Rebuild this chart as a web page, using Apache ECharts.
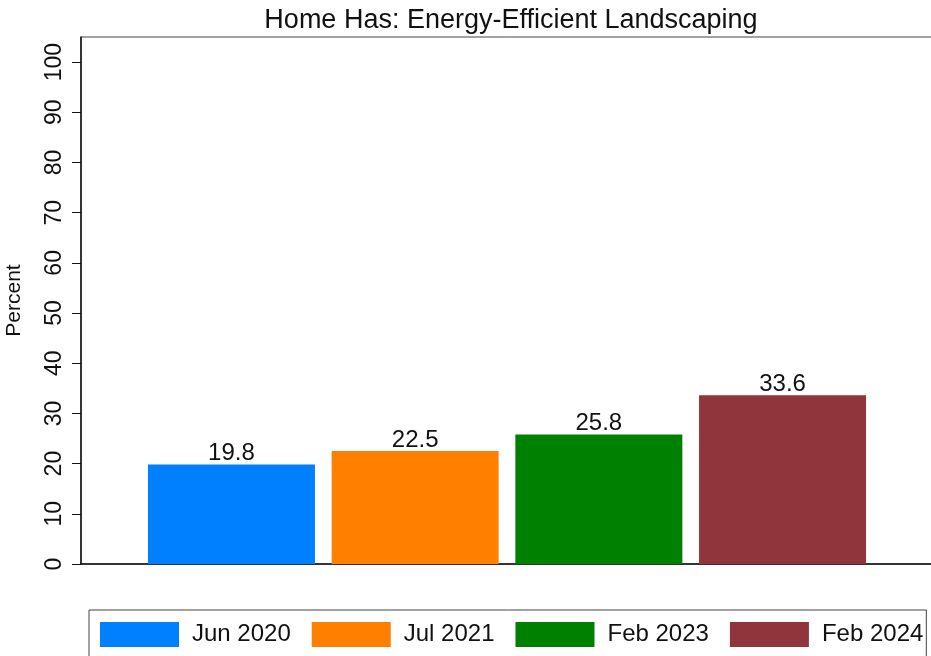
<!DOCTYPE html>
<html>
<head>
<meta charset="utf-8">
<script src="https://cdn.jsdelivr.net/npm/echarts@6/dist/echarts.min.js"></script>
<style>
html,body{margin:0;padding:0;background:#fff;}
#chart{width:931px;height:656px;}
</style>
</head>
<body>
<div id="chart"></div>
<script>
const titleText = "Home Has: Energy-Efficient Landscaping";
const seriesNames = ["Jun 2020", "Jul 2021", "Feb 2023", "Feb 2024"];
const seriesValues = [19.8, 22.5, 25.8, 33.6];
const seriesColors = ["#0080FF", "#FF8000", "#008000", "#90353B"];
const yTicks = [0, 10, 20, 30, 40, 50, 60, 70, 80, 90, 100];
const yAxisName = "Percent";

const FONT = "'Liberation Sans', Arial, Helvetica, sans-serif";
const chart = echarts.init(document.getElementById('chart'), null, {renderer: 'canvas'});

const series = seriesNames.map((name, i) => ({
  name: name,
  type: 'bar',
  data: [seriesValues[i]],
  barWidth: 167,
  barGap: '10%',
  itemStyle: {color: seriesColors[i]},
  label: {
    show: true,
    position: 'top',
    distance: -1,
    color: '#111',
    fontSize: 24,
    fontFamily: FONT,
    formatter: (p) => p.value.toFixed(1)
  },
  emphasis: {disabled: true}
}));

chart.setOption({
  animation: false,
  backgroundColor: '#fff',
  title: {
    text: titleText,
    left: 506,
    top: 2,
    textAlign: 'center',
    textStyle: {fontSize: 27, fontWeight: 'normal', color: '#111', fontFamily: FONT}
  },
  grid: {
    left: 81, right: -2, top: 37, bottom: 92,
    outerBoundsMode: 'none',
    containLabel: false,
    show: true, borderColor: '#444', borderWidth: 1, backgroundColor: 'transparent'
  },
  legend: {
    data: seriesNames,
    left: 89,
    top: 610,
    orient: 'horizontal',
    icon: 'rect',
    itemWidth: 79,
    itemHeight: 25,
    itemGap: 21,
    padding: [12, 3, 12, 11],
    borderColor: '#444',
    borderWidth: 1,
    textStyle: {fontSize: 24, color: '#111', fontFamily: FONT, padding: [0, 0, 0, 8]}
  },
  xAxis: {
    type: 'category',
    data: [''],
    axisLine: {show: true, lineStyle: {color: '#111', width: 1.5}},
    axisTick: {show: false},
    axisLabel: {show: false},
    splitLine: {show: false}
  },
  yAxis: {
    type: 'value',
    min: 0,
    max: 105,
    interval: 5,
    name: yAxisName,
    nameLocation: 'middle',
    nameGap: 56,
    nameRotate: 90,
    nameTextStyle: {fontSize: 21, color: '#111', fontFamily: FONT},
    axisLine: {show: true, lineStyle: {color: '#111', width: 1.5}},
    axisTick: {show: true, length: 9, lineStyle: {color: '#111'}, customValues: yTicks},
    axisLabel: {show: true, rotate: 90, margin: 15, fontSize: 23, color: '#111', fontFamily: FONT, customValues: yTicks},
    splitLine: {show: false}
  },
  series: series
});
</script>
</body>
</html>
